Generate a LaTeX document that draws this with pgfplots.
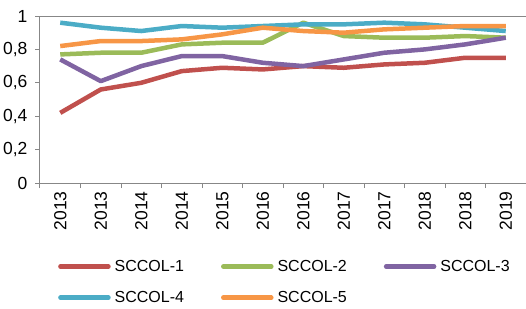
\documentclass[border=0pt]{standalone}
\usepackage{pgfplots}
\pgfplotsset{compat=1.18}
\usepackage{fontspec}
\setmainfont{Liberation Sans}
\definecolor{cred}{HTML}{C0504D}
\definecolor{cgreen}{HTML}{9BBB59}
\definecolor{cpurple}{HTML}{8064A2}
\definecolor{cblue}{HTML}{4BACC6}
\definecolor{corange}{HTML}{F79646}
\definecolor{axgray}{HTML}{878787}
\begin{document}
\begin{tikzpicture}[x=1bp,y=1bp]
\useasboundingbox (-40,-125) rectangle (486,183);
\begin{axis}[
  at={(0,0)}, anchor=south west,
  scale only axis, width=486bp, height=167bp,
  xmin=-0.5, xmax=11.5, ymin=0, ymax=1,
  axis x line*=bottom, axis y line*=left,
  axis line style={-, draw=axgray, line width=1bp},
  xtick={0,...,11},
  xticklabels={2013,2013,2014,2014,2015,2016,2016,2017,2017,2018,2018,2019},
  major x tick style={draw=none},
  minor xtick={-0.5,0.5,...,11.5},
  minor tick length=5bp,
  major tick length=5bp,
  tick align=outside,
  tick style={draw=axgray, line width=1bp},
  ytick={0,0.2,0.4,0.6,0.8,1},
  /pgf/number format/use comma,
  /pgf/number format/assume math mode=true,
  tick label style={font=\fontsize{17.5bp}{20bp}\selectfont},
  x tick label style={rotate=90, anchor=east},
  y tick label style={xshift=-4bp},
  legend columns=3,
  legend style={at={(axis description cs:0,0)}, anchor=north west, xshift=18bp, yshift=-75bp,
    draw=none, fill=none, inner sep=0pt, font=\fontsize{16bp}{19bp}\selectfont,
    /tikz/every odd column/.append style={column sep=2bp},
    /tikz/every even column/.append style={column sep=35bp},
    row sep=14.5bp},
  legend cell align=left,
  legend image code/.code={\draw[#1, line width=4.5bp, line cap=round] (2.5bp,0bp) -- (50.5bp,0bp);},
  every axis plot/.append style={line width=4.5bp, line join=round, no markers},
]
\draw[axgray, line width=1bp] (rel axis cs:0,1) -- (rel axis cs:1,1);
\addplot[cred] coordinates {(0,0.42) (1,0.56) (2,0.60) (3,0.67) (4,0.69) (5,0.68) (6,0.70) (7,0.69) (8,0.71) (9,0.72) (10,0.75) (11,0.75)};
\addlegendentry{SCCOL-1}
\addplot[cgreen] coordinates {(0,0.77) (1,0.78) (2,0.78) (3,0.83) (4,0.84) (5,0.84) (6,0.96) (7,0.88) (8,0.87) (9,0.87) (10,0.88) (11,0.87)};
\addlegendentry{SCCOL-2}
\addplot[cpurple] coordinates {(0,0.74) (1,0.61) (2,0.70) (3,0.76) (4,0.76) (5,0.72) (6,0.70) (7,0.74) (8,0.78) (9,0.80) (10,0.83) (11,0.87)};
\addlegendentry{SCCOL-3}
\addplot[cblue] coordinates {(0,0.96) (1,0.93) (2,0.91) (3,0.94) (4,0.93) (5,0.94) (6,0.95) (7,0.95) (8,0.96) (9,0.95) (10,0.93) (11,0.91)};
\addlegendentry{SCCOL-4}
\addplot[corange] coordinates {(0,0.82) (1,0.85) (2,0.85) (3,0.86) (4,0.89) (5,0.93) (6,0.91) (7,0.90) (8,0.92) (9,0.93) (10,0.94) (11,0.94)};
\addlegendentry{SCCOL-5}
\end{axis}
\end{tikzpicture}
\end{document}
